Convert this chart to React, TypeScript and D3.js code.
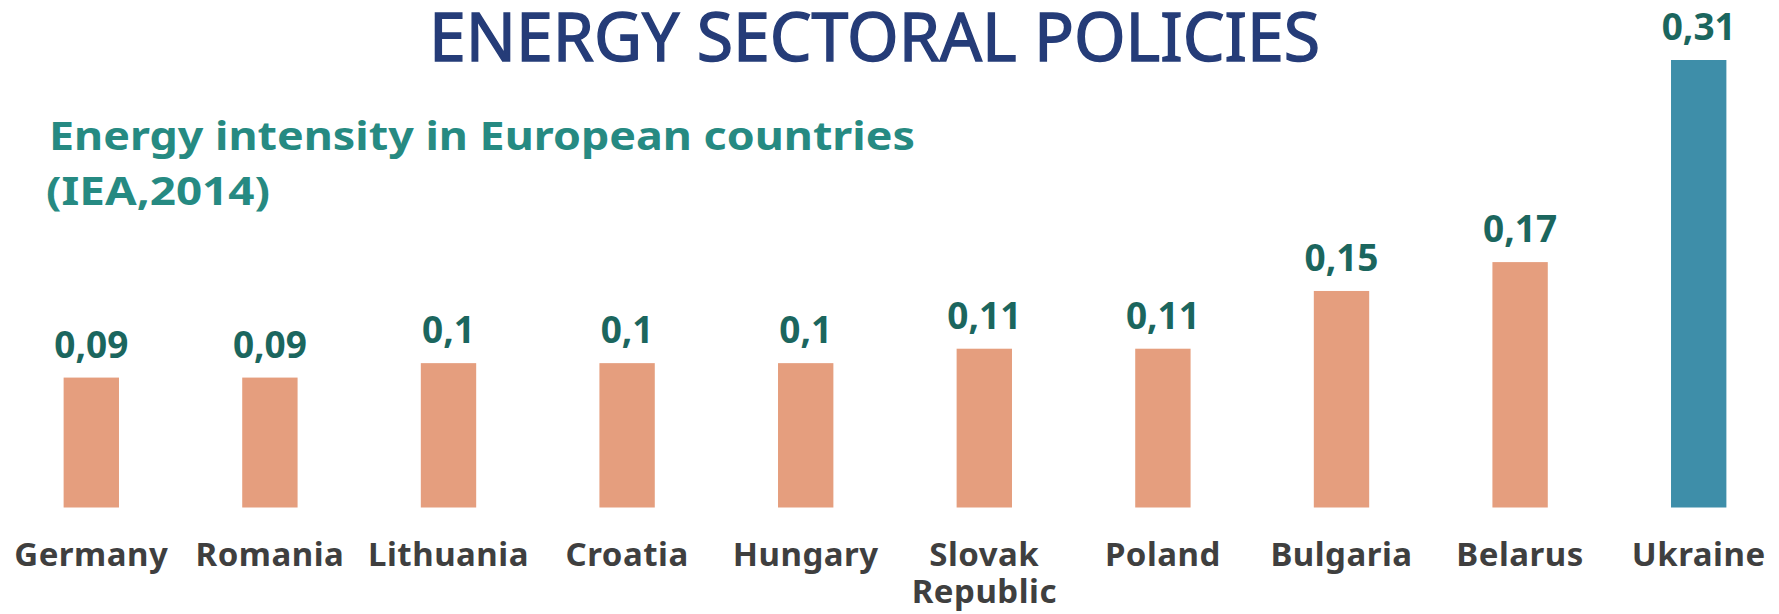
import * as d3 from "d3";

// data
const countries = ["Germany", "Romania", "Lithuania", "Croatia", "Hungary", "Slovak Republic", "Poland", "Bulgaria", "Belarus", "Ukraine"];
const intensity = [0.09, 0.09, 0.1, 0.1, 0.1, 0.11, 0.11, 0.15, 0.17, 0.31];
const valueLabels = ["0,09", "0,09", "0,1", "0,1", "0,1", "0,11", "0,11", "0,15", "0,17", "0,31"];
const highlighted = ["Ukraine"];

const W = 1779;
const H = 614;

const BAR = "#e59e7e";
const BAR_HI = "#3e8ea9";
const VALUE_COLOR = "#1b665e";
const LABEL_COLOR = "#3f3f3f";
const TITLE_COLOR = "#253c78";
const SUB_COLOR = "#268a82";

export default function App() {
    const x = d3
        .scaleBand<string>()
        .domain(countries)
        .range([2, 1788])
        .paddingInner(0.69)
        .paddingOuter(0.345);

    const y = d3.scaleLinear().domain([0, 0.31]).range([507.5, 60]);

    const font = "'Noto Sans', 'DejaVu Sans', sans-serif";

    return (
        <svg
            width={W}
            height={H}
            viewBox={`0 0 ${W} ${H}`}
            style={{ position: "absolute", left: 0, top: 0, background: "#fff" }}
        >
            {/* main title */}
            <text
                x={429}
                y={61}
                fontFamily={font}
                fontSize={67}
                fill={TITLE_COLOR}
                stroke={TITLE_COLOR}
                strokeWidth={1.4}
                textLength={891}
                lengthAdjust="spacingAndGlyphs"
            >
                ENERGY SECTORAL POLICIES
            </text>

            {/* subtitle */}
            <g fontFamily={font} fontWeight="bold" fontSize={39} fill={SUB_COLOR}>
                <text x={49} y={150} textLength={866} lengthAdjust="spacingAndGlyphs">
                    Energy intensity in European countries
                </text>
                <text x={46} y={205} textLength={224} lengthAdjust="spacingAndGlyphs">
                    (IEA,2014)
                </text>
            </g>

            {/* bars */}
            {countries.map((c, i) => {
                const x0 = x(c)!;
                const top = y(intensity[i]);
                const cx = x0 + x.bandwidth() / 2;
                const words = c.split(" ");
                return (
                    <g key={c}>
                        <rect
                            x={x0}
                            y={top}
                            width={x.bandwidth()}
                            height={y(0) - top}
                            fill={highlighted.includes(c) ? BAR_HI : BAR}
                        />
                        <text
                            x={cx}
                            y={top - 20}
                            textAnchor="middle"
                            fontFamily={font}
                            fontWeight="bold"
                            fontSize={37}
                            fill={VALUE_COLOR}
                        >
                            {valueLabels[i]}
                        </text>
                        <text
                            x={cx}
                            y={566}
                            textAnchor="middle"
                            fontFamily={font}
                            fontWeight="bold"
                            fontSize={33}
                            letterSpacing={0.5}
                            fill={LABEL_COLOR}
                        >
                            {words.map((w, k) => (
                                <tspan key={k} x={cx} dy={k === 0 ? 0 : 37}>
                                    {w}
                                </tspan>
                            ))}
                        </text>
                    </g>
                );
            })}
        </svg>
    );
}
